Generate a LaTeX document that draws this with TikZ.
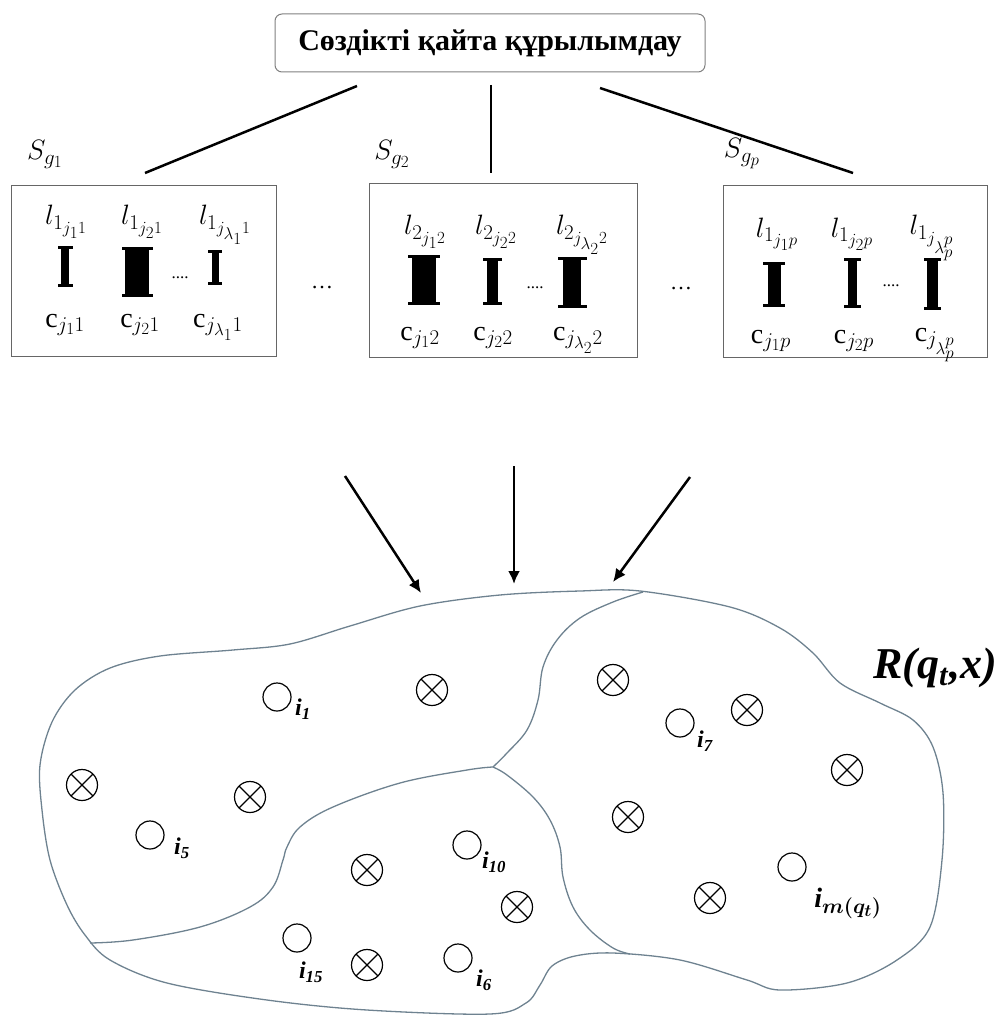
\documentclass[tikz,border=0pt]{standalone}
\usepackage{fix-cm}
\usepackage{fontspec}
\setmainfont{Liberation Serif}
\usepackage{amsmath}
\usepackage{bm}
\usepackage{xcolor}
\usetikzlibrary{positioning}
\usetikzlibrary{arrows.meta}
\definecolor{outline}{HTML}{6E8290}
\DeclareMathSizes{28}{28}{21}{17}

% an I-shaped bar: x, top, bottom, stem width, serif width
\newcommand{\stembar}[5]{%
  \fill ({#1-#4/2},#2) rectangle ({#1+#4/2},#3);
  \fill ({#1-#5/2},#2) rectangle ({#1+#5/2},{#2+3});
  \fill ({#1-#5/2},{#3-3}) rectangle ({#1+#5/2},#3);}

\begin{document}
\begin{tikzpicture}[x=1pt, y=-1pt,
    type-title/.style={rectangle, rounded corners=7pt, draw=black!50, line width=1pt, minimum width=430pt, minimum height=58pt, font=\fontsize{30}{34}\selectfont\bfseries},
    type-group/.style={rectangle, draw=black!60, line width=1pt},
    type-label/.style={anchor=base, font=\fontsize{28}{30}\selectfont},
    type-dots/.style={anchor=base, font=\fontsize{17}{19}\selectfont},
    type-item/.style={circle, draw, line width=1.2pt, minimum size=28pt, inner sep=0pt},
    type-empty/.style={circle, draw, line width=1.2pt, minimum size=31pt, inner sep=0pt,
      path picture={\draw[line width=1.2pt] (path picture bounding box.north west) -- (path picture bounding box.south east)
        (path picture bounding box.north east) -- (path picture bounding box.south west);}},
    type-index/.style={font=\fontsize{24}{26}\selectfont\bfseries\itshape},
    type-link/.style={line width=2.5pt},
    type-arrow/.style={line width=2.5pt, -{Latex[length=13pt,width=12pt]}},
    type-border/.style={draw=outline, line width=1.3pt}
  ]
  \useasboundingbox (0,0) rectangle (998,1016);

  \node[type-title] (title) at (490,43) {Сөздікті қайта құрылымдау};

  % groups
  \node[type-group, minimum width=265pt, minimum height=170pt] (group1) at (143.5,271) {};
  \node[type-group, minimum width=268pt, minimum height=173pt] (group2) at (503,270.5) {};
  \node[type-group, minimum width=264pt, minimum height=171pt] (groupp) at (855,271.5) {};
  \node[type-label] (sg1) at (45,160) {$S_{g_1}$};
  \node[type-label] (sg2) at (392,160) {$S_{g_2}$};
  \node[type-label] (sgp) at (742,158) {$S_{g_p}$};

  \coordinate (top1) at (357,86);
  \coordinate (top2) at (491,85);
  \coordinate (top3) at (600,88);
  \coordinate (end1) at (145,173);
  \coordinate (end2) at (491,173);
  \coordinate (end3) at (853,173);
  \draw[type-link] (top1) -- (end1);
  \draw[type-link] (top2) -- (end2);
  \draw[type-link] (top3) -- (end3);

  % first group
  \node[type-label] (l11) at (66,225) {$l_{1_{j_1 1}}$};
  \node[type-label] (l21) at (142,225) {$l_{1_{j_2 1}}$};
  \node[type-label] (l31) at (225,225) {$l_{1_{j_{\lambda_1} 1}}$};
  \stembar{65}{246}{287}{8}{15}
  \stembar{137}{247}{297}{24}{31}
  \stembar{215}{250}{285}{7}{14}
  \node[type-dots] (dots1) at (180,278) {....};
  \node[type-label] (c11) at (65,327) {$\mathrm{c}_{j_1 1}$};
  \node[type-label] (c21) at (140,327) {$\mathrm{c}_{j_2 1}$};
  \node[type-label] (c31) at (218,327) {$\mathrm{c}_{j_{\lambda_1} 1}$};

  % second group
  \node[type-label] (l12) at (425,235) {$l_{2_{j_1 2}}$};
  \node[type-label] (l22) at (496,235) {$l_{2_{j_2 2}}$};
  \node[type-label] (l32) at (582,235) {$l_{2_{j_{\lambda_2} 2}}$};
  \stembar{424}{255}{305}{24}{32}
  \stembar{492}{258}{305}{11}{19}
  \stembar{572}{257}{308}{18}{29}
  \node[type-dots] (dots2) at (535,288) {....};
  \node[type-label] (c12) at (420,340) {$\mathrm{c}_{j_1 2}$};
  \node[type-label] (c22) at (493,340) {$\mathrm{c}_{j_2 2}$};
  \node[type-label] (c32) at (578,340) {$\mathrm{c}_{j_{\lambda_2} 2}$};

  % last group
  \node[type-label] (l1p) at (777,237) {$l_{1_{j_1 p}}$};
  \node[type-label] (l2p) at (852,237) {$l_{1_{j_2 p}}$};
  \node[type-label] (l3p) at (932,235) {$l_{1_{j_{\lambda_p^p}}}$};
  \stembar{774}{262}{307}{13}{22}
  \stembar{852}{258}{308}{9}{17}
  \stembar{932}{258}{310}{11}{17}
  \node[type-dots] (dotsp) at (891,286) {....};
  \node[type-label] (c1p) at (771,343) {$\mathrm{c}_{j_1 p}$};
  \node[type-label] (c2p) at (854,343) {$\mathrm{c}_{j_2 p}$};
  \node[type-label] (c3p) at (935,341) {$\mathrm{c}_{j_{\lambda_p^p}}$};

  \node[anchor=base, font=\fontsize{22}{24}\selectfont] (gap1) at (322,288) {\dots};
  \node[anchor=base, font=\fontsize{22}{24}\selectfont] (gap2) at (681,289) {\dots};

  % arrows into the region
  \coordinate (src1) at (345,476);
  \coordinate (src2) at (514,466);
  \coordinate (src3) at (690,477);
  \coordinate (dst1) at (421,593);
  \coordinate (dst2) at (514,584);
  \coordinate (dst3) at (613,582);
  \draw[type-arrow] (src1) -- (dst1);
  \draw[type-arrow] (src2) -- (dst2);
  \draw[type-arrow] (src3) -- (dst3);

  % region and its parts
  \draw[type-border] plot[smooth cycle, tension=0.55] coordinates {(40,765) (52,722) (75,690) (110,668) (160,656) (233,650) (290,644) (350,626) (420,606) (500,595) (580,591) (640,591) (730,607) (780,628) (813,653) (840,683) (880,703) (913,720) (933,747) (943,793) (942,860) (930,927) (897,960) (847,983) (780,990) (747,980) (680,960) (613,953) (575,956) (552,966) (540,985) (526,1003) (490,1014) (367,1010) (267,1000) (167,983) (110,960) (85,935) (67,905) (50,860) (42,810)};
  \coordinate (fork) at (493,767);
  \draw[type-border] plot[smooth, tension=0.6] coordinates {(643,592) (613,602) (580,618) (557,640) (543,667) (538,700) (527,730) (507,753) (fork)};
  \draw[type-border] plot[smooth, tension=0.6] coordinates {(fork) (507,775) (533,797) (550,820) (560,847) (563,877) (573,907) (590,930) (613,948) (630,954)};
  \draw[type-border] plot[smooth, tension=0.6] coordinates {(fork) (467,770) (400,783) (333,807) (300,827) (287,847) (283,860) (273,887) (250,907) (200,927) (133,940) (90,943)};

  % items
  \node[type-item] (i1) at (277,697) {};
  \node[type-item] (i5) at (150,835) {};
  \node[type-item] (i10) at (467,845) {};
  \node[type-item] (i15) at (297,938) {};
  \node[type-item] (i6) at (458,958) {};
  \node[type-item] (i7) at (680,723) {};
  \node[type-item] (im) at (792,867) {};
  \node[type-index] (i1-text) at (303,709) {i\textsubscript{1}};
  \node[type-index] (i5-text) at (182,848) {i\textsubscript{5}};
  \node[type-index] (i10-text) at (494,862) {i\textsubscript{10}};
  \node[type-index] (i15-text) at (311,972) {i\textsubscript{15}};
  \node[type-index] (i6-text) at (484,980) {i\textsubscript{6}};
  \node[type-index] (i7-text) at (705,741) {i\textsubscript{7}};
  \node[type-index, font=\fontsize{28}{30}\selectfont\bfseries\itshape] (im-text) at (848,903) {i$_{\bm{m(q_t)}}$};

  \node[type-empty] (e1) at (432,690) {};
  \node[type-empty] (e2) at (82,785) {};
  \node[type-empty] (e3) at (250,797) {};
  \node[type-empty] (e4) at (367,870) {};
  \node[type-empty] (e5) at (367,965) {};
  \node[type-empty] (e6) at (517,907) {};
  \node[type-empty] (e7) at (613,680) {};
  \node[type-empty] (e8) at (747,710) {};
  \node[type-empty] (e9) at (847,770) {};
  \node[type-empty] (e10) at (628,817) {};
  \node[type-empty] (e11) at (710,898) {};

  \node[font=\fontsize{44}{48}\selectfont\bfseries\itshape] (rname) at (935,668) {R(q\textsubscript{t}\kern1pt,x)};
\end{tikzpicture}
\end{document}
